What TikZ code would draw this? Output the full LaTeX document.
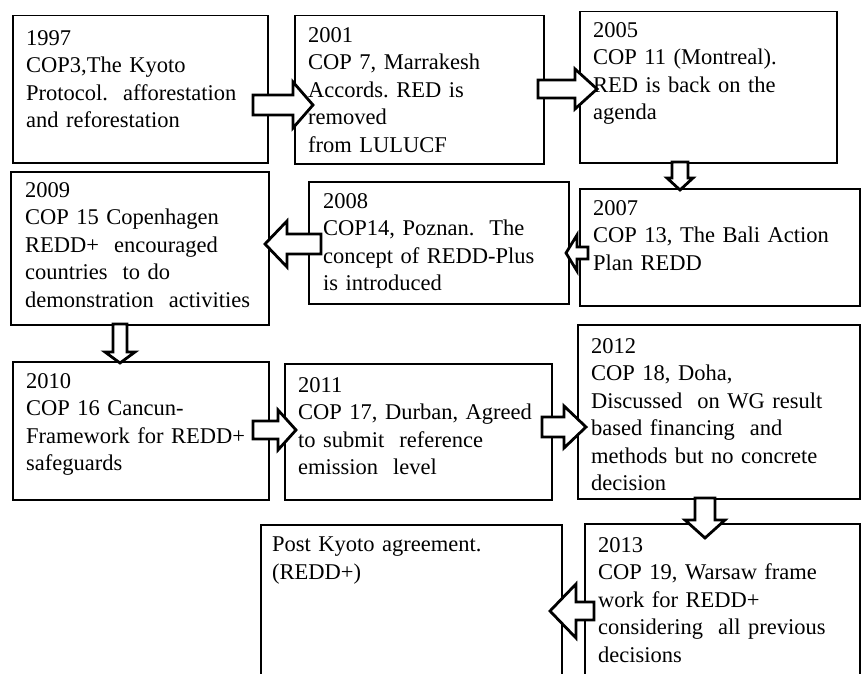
\documentclass[tikz,border=0pt]{standalone}
\usepackage{fontspec}
\setmainfont{Liberation Serif}
\frenchspacing
\usetikzlibrary{calc}
\tikzset{
  box/.style={draw=black, line width=1.5pt, anchor=north west, inner sep=0pt, fill=white},
  txt/.style={anchor=north west, inner sep=0pt, align=left, text width=300pt,
    font=\fontsize{22.5}{27.5}\selectfont},
  barrow/.style={draw=black, line width=2.8pt, fill=white, line join=miter},
}
% #1 name, #2 start coordinate, #3 tip coordinate, #4 shaft half width, #5 head half width, #6 head length
\newcommand\blockarrow[6]{%
  \coordinate (#1h) at ($(#3)!#6pt!(#2)$);
  \draw[barrow] ($(#2)!#4pt!90:(#3)$) -- ($(#1h)!#4pt!90:(#3)$) -- ($(#1h)!#5pt!90:(#3)$)
    -- (#3) -- ($(#1h)!#5pt!-90:(#3)$) -- ($(#1h)!#4pt!-90:(#3)$) -- ($(#2)!#4pt!-90:(#3)$) -- cycle;}
\begin{document}
\begin{tikzpicture}[x=1pt, y=-1pt]
\clip (0,0) rectangle (862,674);
\fill[white] (0,0) rectangle (862,674);
% boxes
\node[box, minimum width=255pt, minimum height=147pt] (b1) at (12,15) {};
\node[box, minimum width=249pt, minimum height=148pt] (b2) at (294,15) {};
\node[box, minimum width=257pt, minimum height=151pt] (b3) at (579,11) {};
\node[box, minimum width=280pt, minimum height=117pt] (b4) at (579,188) {};
\node[box, minimum width=260pt, minimum height=122pt] (b5) at (308,181) {};
\node[box, minimum width=258pt, minimum height=153pt] (b6) at (10,171) {};
\node[box, minimum width=256pt, minimum height=138pt] (b7) at (12,361) {};
\node[box, minimum width=267pt, minimum height=136pt] (b8) at (284,363) {};
\node[box, minimum width=282pt, minimum height=174pt] (b9) at (577,324) {};
\node[box, minimum width=275pt, minimum height=160pt] (b10) at (584,523) {};
\node[box, minimum width=301pt, minimum height=160pt] (b11) at (260,524) {};
% arrow end points
\coordinate (a1s) at (253,105);  \coordinate (a1e) at (313,105);
\coordinate (a2s) at (538,89);   \coordinate (a2e) at (597,89);
\coordinate (a3s) at (680,162);  \coordinate (a3e) at (680,190);
\coordinate (a4s) at (588,253);  \coordinate (a4e) at (566,253);
\coordinate (a5s) at (321,244);  \coordinate (a5e) at (265,244);
\coordinate (a6s) at (120,324);  \coordinate (a6e) at (120,363);
\coordinate (a7s) at (253,430);  \coordinate (a7e) at (296,430);
\coordinate (a8s) at (542,427);  \coordinate (a8e) at (586,427);
\coordinate (a9s) at (705,498);  \coordinate (a9e) at (705,538);
\coordinate (a10s) at (594,611); \coordinate (a10e) at (550,611);
\blockarrow{a1}{a1s}{a1e}{10}{23}{20}
\blockarrow{a2}{a2s}{a2e}{9}{20}{22}
\blockarrow{a3}{a3s}{a3e}{8}{13}{12}
\blockarrow{a4}{a4s}{a4e}{6}{18}{11}
\blockarrow{a5}{a5s}{a5e}{10}{23}{22}
\blockarrow{a6}{a6s}{a6e}{7}{15}{11}
\blockarrow{a7}{a7s}{a7e}{9}{20}{18}
\blockarrow{a8}{a8s}{a8e}{10}{21}{22}
\blockarrow{a9}{a9s}{a9e}{10}{20}{18}
\blockarrow{a10}{a10s}{a10e}{9}{27}{26}
% texts
\node[txt] (t1) at (26,30) {1997\\COP3,The Kyoto\\Protocol.\ \ afforestation\\and reforestation};
\node[txt] (t2) at (308,27) {2001\\COP 7, Marrakesh\\Accords. RED is\\removed\\from LULUCF};
\node[txt] (t3) at (593,22) {2005\\COP 11 (Montreal).\\RED is back on the\\agenda};
\node[txt] (t4) at (593,200) {2007\\COP 13, The Bali Action\\Plan REDD};
\node[txt] (t5) at (323,193) {2008\\COP14, Poznan.\ \ The\\concept of REDD-Plus\\is introduced};
\node[txt] (t6) at (25,182) {2009\\COP 15 Copenhagen\\REDD+\ \ encouraged\\countries\ \ to do\\demonstration\ \ activities};
\node[txt] (t7) at (26,373) {2010\\COP 16 Cancun-\\Framework for REDD+\\safeguards};
\node[txt] (t8) at (298,377) {2011\\COP 17, Durban, Agreed\\to submit\ \ reference\\emission\ \ level};
\node[txt] (t9) at (591,338) {2012\\COP 18, Doha,\\Discussed\ \ on WG result\\based financing\ \ and\\methods but no concrete\\decision};
\node[txt] (t10) at (598,537) {2013\\COP 19, Warsaw frame\\work for REDD+\\considering\ \ all previous\\decisions};
\node[txt] (t11) at (272,537) {Post Kyoto agreement.\\(REDD+)};
\end{tikzpicture}
\end{document}
